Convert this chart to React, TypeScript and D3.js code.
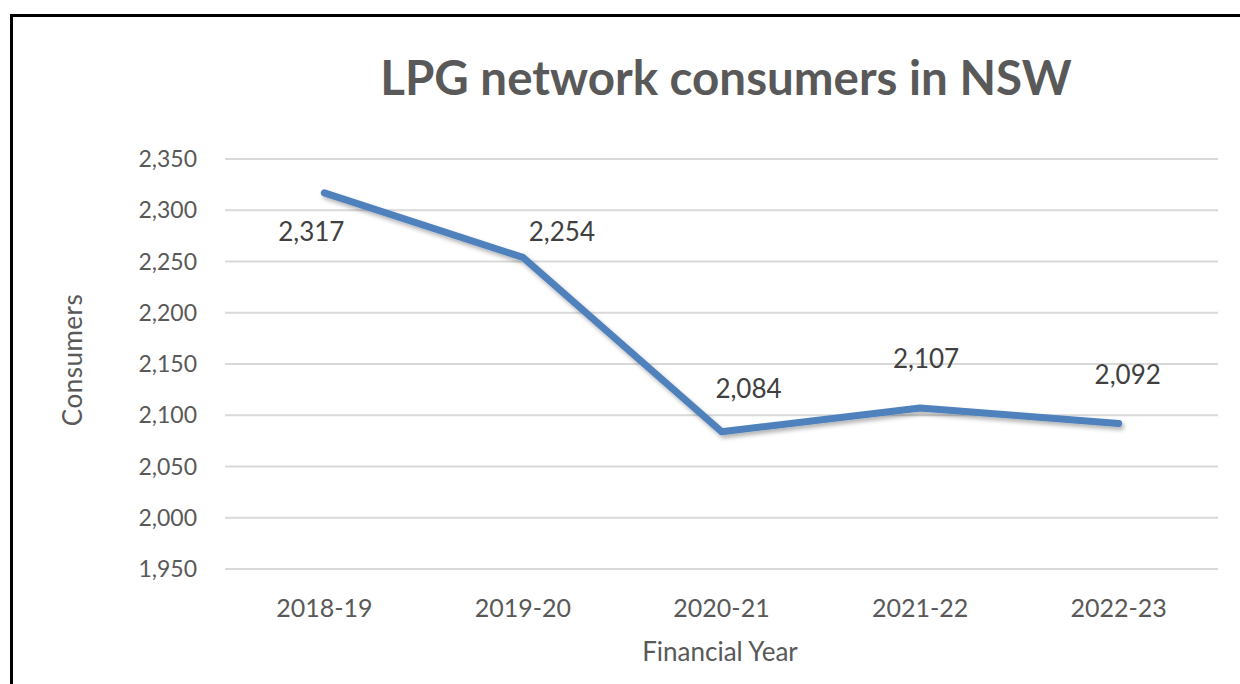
import React, { useEffect, useRef } from 'react'
import * as d3 from 'd3'

const years = ['2018-19', '2019-20', '2020-21', '2021-22', '2022-23']
const consumers = [2317, 2254, 2084, 2107, 2092]
const yTicks = [1950, 2000, 2050, 2100, 2150, 2200, 2250, 2300, 2350]

// where each data label sits relative to its point (dx, baseline dy)
const labelOffsets: [number, number][] = [[-13, 48], [39, -16], [27, -34], [6, -40], [9, -39]]

const W = 1240
const H = 684
const textCol = '#595959'
const font = 'Lato, "Open Sans", sans-serif'

export default function App() {
  const ref = useRef<SVGSVGElement>(null)

  useEffect(() => {
    const svg = d3.select(ref.current)
    svg.selectAll('*').remove()

    const left = 225, right = 1218, top = 159, bottom = 569

    const x = d3.scaleBand().domain(years).range([left, right])
    const y = d3.scaleLinear().domain([1950, 2350]).range([bottom, top])
    const fmt = d3.format(',')

    svg.append('rect').attr('width', W).attr('height', H).attr('fill', '#fff')

    const defs = svg.append('defs')
    defs.append('filter')
      .attr('id', 'shadow')
      .attr('x', '-10%').attr('y', '-10%').attr('width', '120%').attr('height', '130%')
      .append('feDropShadow')
      .attr('dx', 2).attr('dy', 3).attr('stdDeviation', 2)
      .attr('flood-color', '#000').attr('flood-opacity', 0.3)

    // frame (only left and top visible)
    svg.append('path')
      .attr('d', `M11.5,${H} L11.5,15.5 L${W},15.5`)
      .attr('fill', 'none')
      .attr('stroke', '#000')
      .attr('stroke-width', 3)

    svg.append('text')
      .attr('x', 726).attr('y', 95)
      .attr('text-anchor', 'middle')
      .attr('font-family', font)
      .attr('font-weight', 'bold')
      .attr('font-size', 47.5)
      .attr('fill', textCol)
      .text('LPG network consumers in NSW')

    // gridlines + y tick labels
    const grid = svg.append('g')
    grid.selectAll('line').data(yTicks).enter()
      .append('line')
      .attr('x1', left).attr('x2', right)
      .attr('y1', d => y(d)).attr('y2', d => y(d))
      .attr('stroke', '#d9d9d9')
      .attr('stroke-width', 2)
    grid.selectAll('text').data(yTicks).enter()
      .append('text')
      .attr('x', 197).attr('y', d => y(d))
      .attr('dy', '0.35em')
      .attr('text-anchor', 'end')
      .attr('font-family', font)
      .attr('font-size', 23)
      .attr('fill', textCol)
      .text(d => fmt(d))

    // category labels
    svg.append('g').selectAll('text').data(years).enter()
      .append('text')
      .attr('x', d => x(d)! + x.bandwidth() / 2)
      .attr('y', 617)
      .attr('text-anchor', 'middle')
      .attr('font-family', font)
      .attr('font-size', 25)
      .attr('fill', textCol)
      .text(d => d)

    svg.append('text')
      .attr('x', 720).attr('y', 661)
      .attr('text-anchor', 'middle')
      .attr('font-family', font)
      .attr('font-size', 26)
      .attr('fill', textCol)
      .text('Financial Year')

    svg.append('text')
      .attr('transform', 'translate(82,360) rotate(-90)')
      .attr('text-anchor', 'middle')
      .attr('font-family', font)
      .attr('font-size', 26)
      .attr('letter-spacing', 0.5)
      .attr('fill', textCol)
      .text('Consumers')

    const line = d3.line<number>()
      .x((d, i) => x(years[i])! + x.bandwidth() / 2)
      .y(d => y(d))

    svg.append('path')
      .datum(consumers)
      .attr('d', line)
      .attr('fill', 'none')
      .attr('stroke', '#4f81bd')
      .attr('stroke-width', 7)
      .attr('stroke-linecap', 'round')
      .attr('stroke-linejoin', 'round')
      .attr('filter', 'url(#shadow)')

    svg.append('g').selectAll('text').data(consumers).enter()
      .append('text')
      .attr('x', (d, i) => x(years[i])! + x.bandwidth() / 2 + labelOffsets[i][0])
      .attr('y', (d, i) => y(d) + labelOffsets[i][1])
      .attr('text-anchor', 'middle')
      .attr('font-family', font)
      .attr('font-size', 26)
      .attr('fill', '#404040')
      .text(d => fmt(d))
  }, [])

  return (
    <svg ref={ref} width={W} height={H}
      style={{ position: 'absolute', left: 0, top: 0, display: 'block' }} />
  )
}
